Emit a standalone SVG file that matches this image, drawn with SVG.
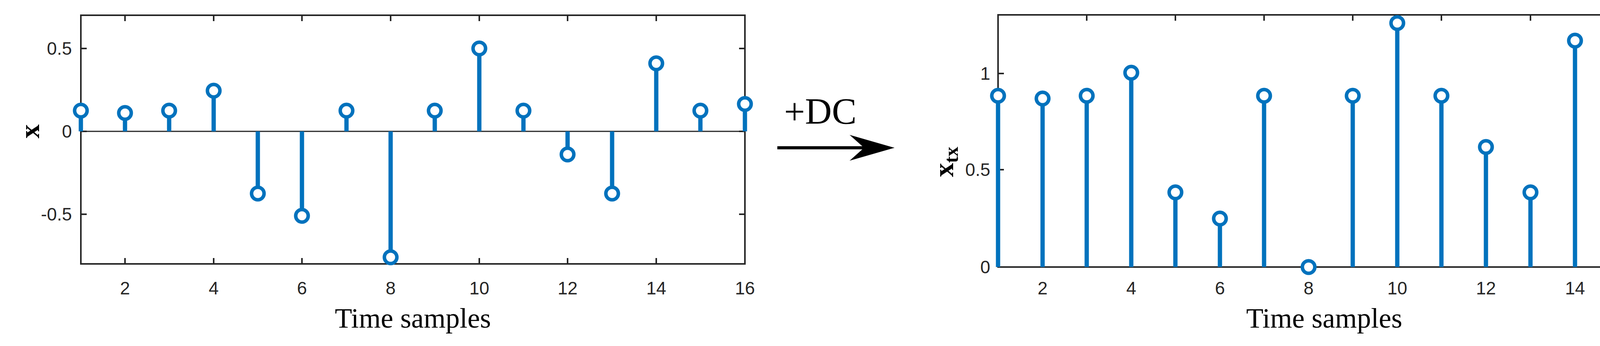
<svg xmlns="http://www.w3.org/2000/svg" width="4319" height="885" viewBox="0 0 4319 885">
<style>
.ax{fill:none;stroke:#262626;stroke-width:4}
.st{stroke:#0072BD;stroke-width:11}
.mk{fill:#fff;stroke:#0072BD;stroke-width:9}
.tl{font-family:"Liberation Sans",Arial,sans-serif;font-size:46px;fill:#262626}
.tm{font-family:"Liberation Serif","Times New Roman",serif;fill:#000}
</style>
<defs>
<g id="xt"><line x1="0" y1="0" x2="0" y2="-15" class="ax"/></g>
</defs>
<g id="plot-left">
<rect x="207" y="39" width="1700" height="636" class="ax"/>
<line x1="207" y1="336" x2="1907" y2="336" stroke="#262626" stroke-width="3"/>
<g class="ax">
<path d="M320,675v-15M547,675v-15M773,675v-15M1000,675v-15M1227,675v-15M1453,675v-15M1680,675v-15M1907,675v-15"/>
<path d="M320,39v15M547,39v15M773,39v15M1000,39v15M1227,39v15M1453,39v15M1680,39v15"/>
<path d="M207,124h15M207,336h15M207,548h15M1907,124h-15M1907,336h-15M1907,548h-15"/>
</g>
<g class="tl" text-anchor="end">
<text x="184" y="140">0.5</text><text x="184" y="352">0</text><text x="184" y="564">-0.5</text>
</g>
<g class="tl" text-anchor="middle">
<text x="320" y="753">2</text><text x="547" y="753">4</text><text x="773" y="753">6</text><text x="1000" y="753">8</text><text x="1227" y="753">10</text><text x="1453" y="753">12</text><text x="1680" y="753">14</text><text x="1907" y="753">16</text>
</g>
<text class="tm" x="1057" y="838" font-size="72" text-anchor="middle">Time samples</text>
<text class="tm" font-weight="bold" font-size="72" text-anchor="middle" transform="translate(100,336) rotate(-90)">x</text>
<g id="stems-left">
<path class="st" d="M207,336V283M320,336V289M433,336V283M547,336V232M660,336V495M773,336V552M887,336V283M1000,336V658M1113,336V283M1227,336V124M1340,336V283M1453,336V395M1567,336V495M1680,336V162M1793,336V283M1907,336V266"/>
<g class="mk">
<circle cx="207" cy="283" r="16"/><circle cx="320" cy="289" r="16"/><circle cx="433" cy="283" r="16"/><circle cx="547" cy="232" r="16"/><circle cx="660" cy="495" r="16"/><circle cx="773" cy="552" r="16"/><circle cx="887" cy="283" r="16"/><circle cx="1000" cy="658" r="16"/><circle cx="1113" cy="283" r="16"/><circle cx="1227" cy="124" r="16"/><circle cx="1340" cy="283" r="16"/><circle cx="1453" cy="395" r="16"/><circle cx="1567" cy="495" r="16"/><circle cx="1680" cy="162" r="16"/><circle cx="1793" cy="283" r="16"/><circle cx="1907" cy="266" r="16"/>
</g>
</g>
</g>
<g id="connectors">
<line x1="1990" y1="378" x2="2240" y2="378" stroke="#000" stroke-width="8"/>
<path d="M2290,378L2175,345L2212,378L2175,411Z" fill="#000"/>
<text class="tm" x="2100" y="317" font-size="95" text-anchor="middle">+DC</text>
</g>
<g id="plot-right">
<rect x="2555" y="38" width="1704" height="645" class="ax"/>
<g class="ax">
<path d="M2782,683v-15M3009,683v-15M3236,683v-15M3463,683v-15M3690,683v-15M3918,683v-15M4145,683v-15"/>
<path d="M2782,38v15M3009,38v15M3236,38v15M3463,38v15M3690,38v15M3918,38v15M4145,38v15"/>
<path d="M2555,434h15M2555,188h15M4259,434h-15M4259,188h-15"/>
</g>
<g class="tl" text-anchor="end">
<text x="2535" y="204">1</text><text x="2535" y="450">0.5</text><text x="2535" y="699">0</text>
</g>
<g class="tl" text-anchor="middle">
<text x="2669" y="753">2</text><text x="2896" y="753">4</text><text x="3123" y="753">6</text><text x="3350" y="753">8</text><text x="3577" y="753">10</text><text x="3804" y="753">12</text><text x="4032" y="753">14</text><text x="4259" y="753">16</text>
</g>
<text class="tm" x="3390" y="838" font-size="72" text-anchor="middle">Time samples</text>
<text class="tm" font-weight="bold" font-size="72" text-anchor="middle" transform="translate(2440,414) rotate(-90)">x<tspan font-size="50" dy="12">tx</tspan></text>
<g id="stems-right">
<path class="st" d="M2555,683V245M2669,683V252M2782,683V245M2896,683V186M3009,683V492M3123,683V559M3236,683V245M3463,683V245M3577,683V59M3690,683V245M3804,683V376M3918,683V492M4032,683V104M4145,683V245M4259,683V225"/>
<g class="mk">
<circle cx="2555" cy="245" r="16"/><circle cx="2669" cy="252" r="16"/><circle cx="2782" cy="245" r="16"/><circle cx="2896" cy="186" r="16"/><circle cx="3009" cy="492" r="16"/><circle cx="3123" cy="559" r="16"/><circle cx="3236" cy="245" r="16"/><circle cx="3350" cy="683" r="16"/><circle cx="3463" cy="245" r="16"/><circle cx="3577" cy="59" r="16"/><circle cx="3690" cy="245" r="16"/><circle cx="3804" cy="376" r="16"/><circle cx="3918" cy="492" r="16"/><circle cx="4032" cy="104" r="16"/><circle cx="4145" cy="245" r="16"/><circle cx="4259" cy="225" r="16"/>
</g>
</g>
</g>
</svg>
